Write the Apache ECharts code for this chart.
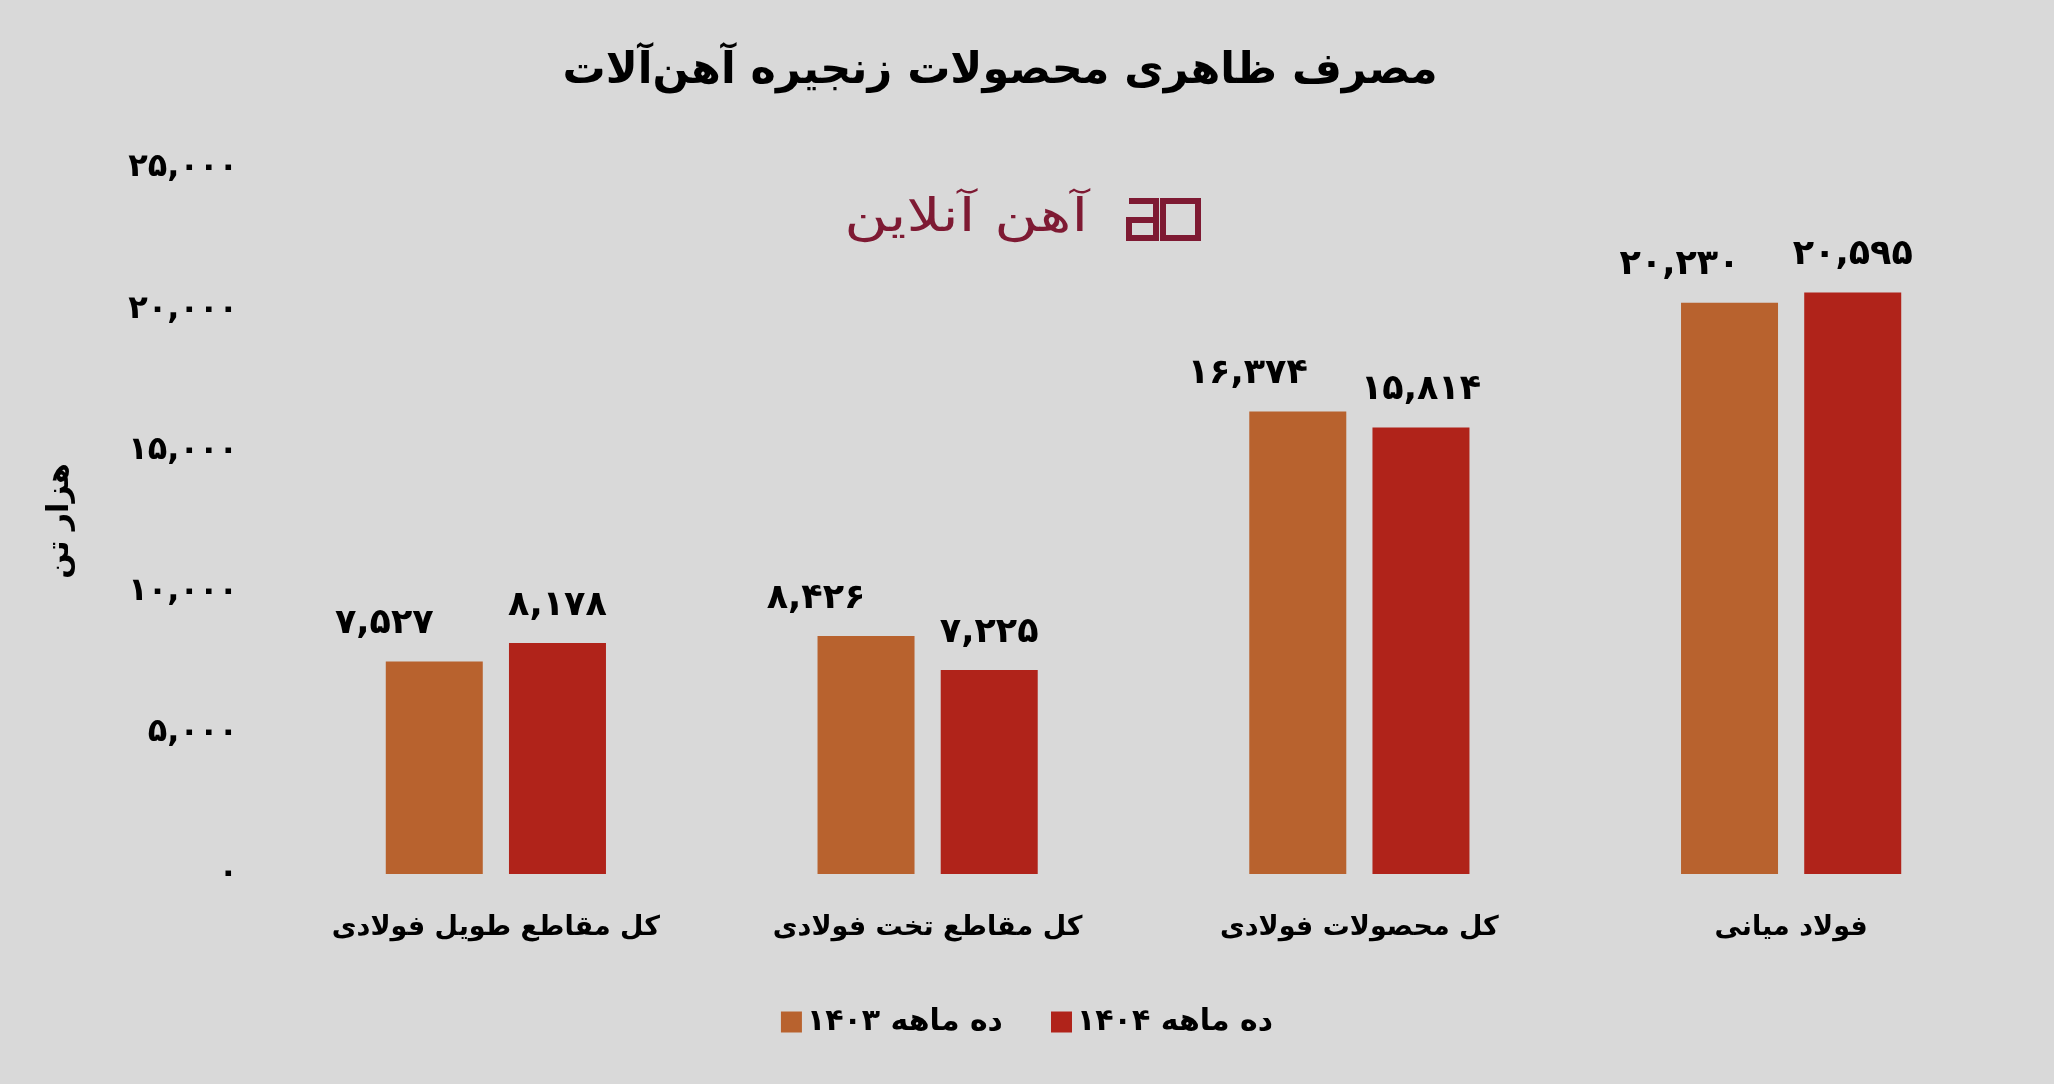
<!DOCTYPE html>
<html>
<head>
<meta charset="utf-8">
<script src="https://cdn.jsdelivr.net/npm/echarts@6/dist/echarts.min.js"></script>
<style>
html,body{margin:0;padding:0;background:#d9d9d9;}
#c{width:2054px;height:1084px;}
</style>
</head>
<body>
<div id="c"></div>
<script>
const titleText = 'مصرف ظاهری محصولات زنجیره آهن‌آلات';
const categories = ['کل مقاطع طویل فولادی', 'کل مقاطع تخت فولادی', 'کل محصولات فولادی', 'فولاد میانی'];
const seriesNames = ['ده ماهه ۱۴۰۳', 'ده ماهه ۱۴۰۴'];
const values1403 = [7527, 8426, 16374, 20230];
const values1404 = [8178, 7225, 15814, 20595];
const yTicks = [0, 5000, 10000, 15000, 20000, 25000];
const yName = 'هزار تن';
const logoText = 'آهن آنلاین';

const FONT = 'DejaVu Sans';
const fa = d => String(d).replace(/[0-9]/g, c => '۰۱۲۳۴۵۶۷۸۹'[+c]);
const fmt = v => fa(Number(v).toLocaleString('en-US'));

const chart = echarts.init(document.getElementById('c'));
const labelBase = {
  show: true, position: 'top', distance: 20,
  formatter: p => fmt(p.value),
  color: '#000', fontFamily: FONT, fontWeight: 'bold', fontSize: 35
};
chart.setOption({
  backgroundColor: '#d9d9d9',
  animation: false,
  title: {
    text: titleText, left: 995, top: 45, textAlign: 'center',
    textStyle: { fontFamily: FONT, fontWeight: 'bold', fontSize: 43, color: '#000' }
  },
  legend: {
    data: seriesNames, bottom: 42, left: 'center',
    itemWidth: 21, itemHeight: 21, itemGap: 48, icon: 'rect', textGap: 10,
    textStyle: { fontFamily: FONT, fontWeight: 'bold', fontSize: 30, color: '#000' }
  },
  grid: { left: 280, right: 47, top: 168, bottom: 210 },
  xAxis: {
    type: 'category', data: categories,
    axisLine: { show: false }, axisTick: { show: false },
    axisLabel: { interval: 0, margin: 40, fontFamily: FONT, fontWeight: 'bold', fontSize: 27, color: '#000' }
  },
  yAxis: {
    type: 'value', min: yTicks[0], max: yTicks[yTicks.length - 1], interval: yTicks[1] - yTicks[0],
    name: yName, nameLocation: 'middle', nameRotate: 90, nameGap: 205,
    nameTextStyle: { fontFamily: FONT, fontWeight: 'bold', fontSize: 30, color: '#000' },
    splitLine: { show: false }, axisLine: { show: false }, axisTick: { show: false },
    axisLabel: { margin: 42, formatter: v => fmt(v), fontFamily: FONT, fontWeight: 'bold', fontSize: 32, color: '#000' }
  },
  series: [
    { name: seriesNames[0], type: 'bar', data: values1403, barWidth: 97, barGap: '27%',
      itemStyle: { color: '#b8622e' }, label: Object.assign({}, labelBase, { offset: [-50, 0] }) },
    { name: seriesNames[1], type: 'bar', data: values1404, barWidth: 97,
      itemStyle: { color: '#b0231a' }, label: labelBase }
  ],
  graphic: [
    { type: 'text', x: 1088, y: 219, scaleX: 1.3,
      style: { text: logoText, fontFamily: FONT, fontSize: 46, fill: '#7e1a33', align: 'right', verticalAlign: 'middle' } },
    { type: 'polyline', shape: { points: [[1129, 201], [1156, 201], [1156, 238], [1129, 238], [1129, 220], [1156, 220]] },
      style: { stroke: '#7e1a33', lineWidth: 6, fill: null } },
    { type: 'rect', shape: { x: 1163, y: 201, width: 35, height: 37 },
      style: { stroke: '#7e1a33', lineWidth: 6, fill: null } }
  ]
});
</script>
</body>
</html>
